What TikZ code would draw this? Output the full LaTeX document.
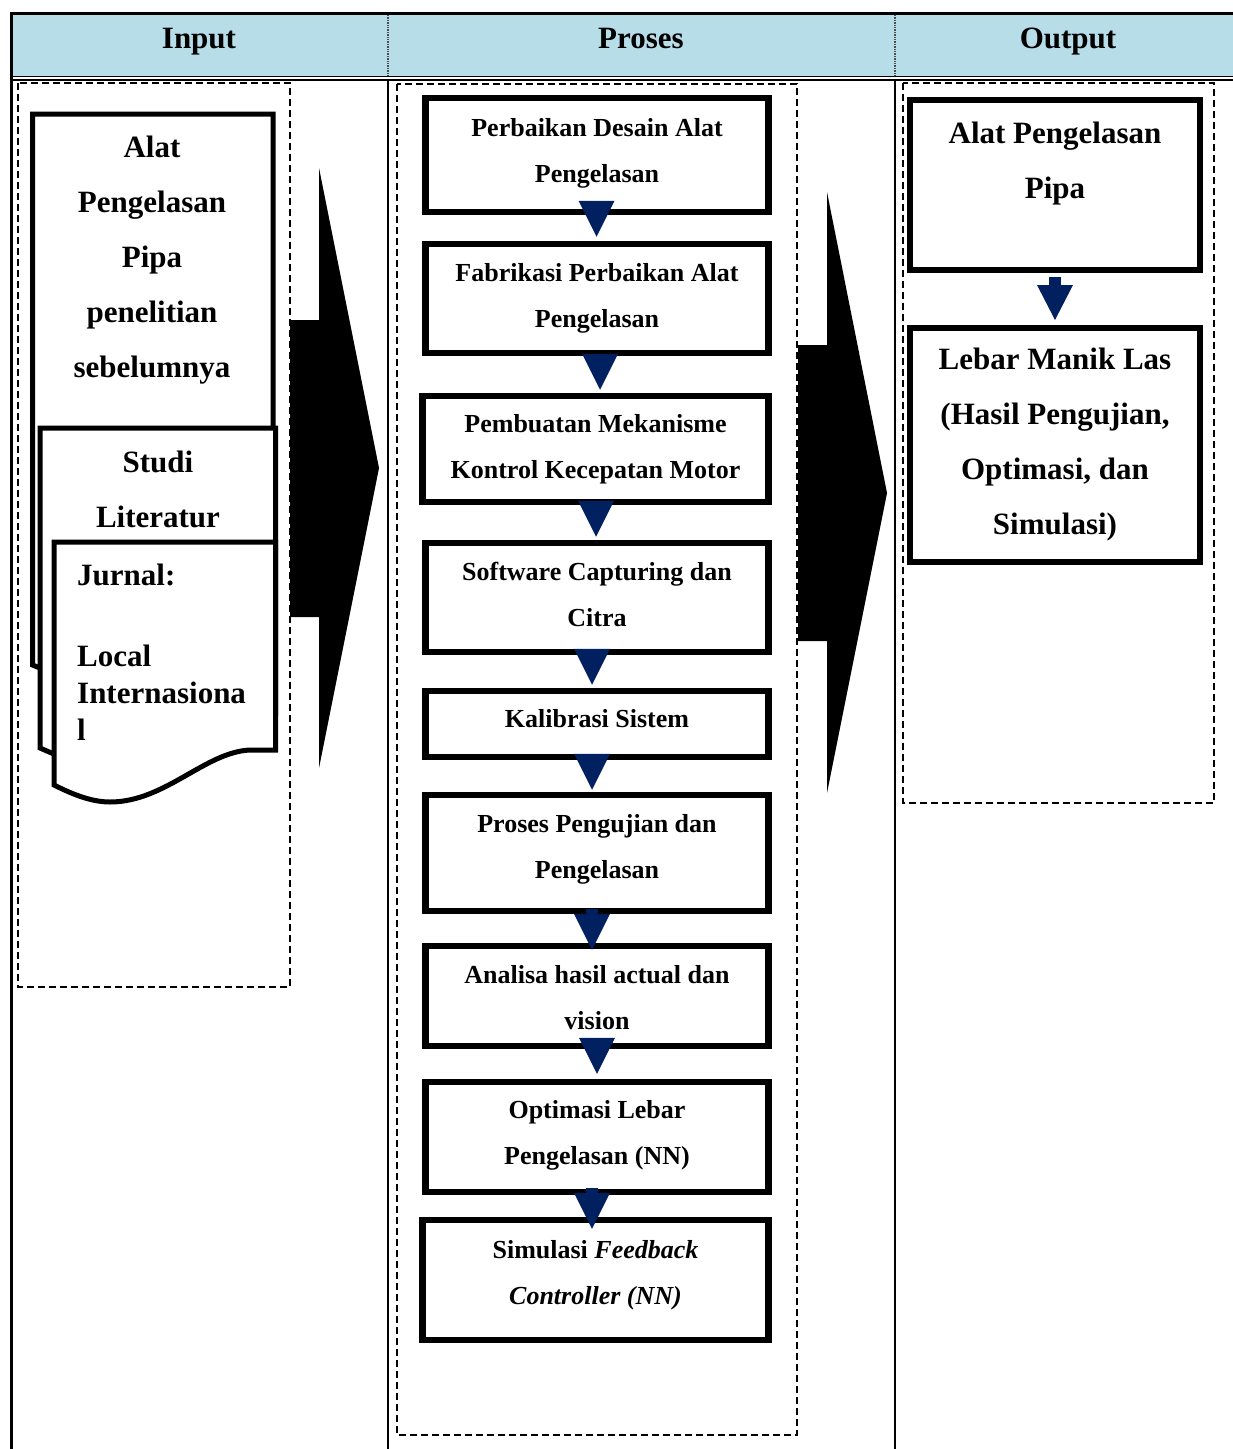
\documentclass[tikz,border=0pt]{standalone}
\usepackage{fontspec}
\setmainfont{Liberation Serif}
\usetikzlibrary{calc}
\definecolor{headblue}{HTML}{B7DDE8}
\definecolor{navy}{HTML}{002060}
\newcommand\procfont{\fontsize{26}{46}\selectfont\bfseries}
\newcommand\bigfont{\fontsize{31}{55}\selectfont\bfseries}

\begin{document}
\begin{tikzpicture}[x=1pt,y=-1pt,
  procbox/.style={draw=black,line width=6.5pt,fill=white,minimum width=343pt,inner sep=0pt},
  proctext/.style={align=center,font=\procfont,inner sep=0pt},
  outbox/.style={draw=black,line width=6pt,fill=white,minimum width=290pt,inner sep=0pt},
  docshape/.style={draw=black,line width=5pt,fill=white,line join=miter},
  dashbox/.style={draw=black,line width=1.4pt,dash pattern=on 7pt off 4pt},
  bigtext/.style={align=center,font=\bigfont,inner sep=0pt},
  headtext/.style={font=\bigfont,inner sep=0pt,anchor=base},
  blockarrow/.style={fill=black},
  tri/.style={fill=navy},
]
\useasboundingbox (0,0) rectangle (1233,1449);

% ---------- table header ----------
\fill[headblue] (10,13) rectangle (1233,76);
\draw[line width=3pt] (10,13.5) -- (1233,13.5);
\draw[line width=1.5pt] (10,76.5) -- (1233,76.5);
\draw[line width=1.5pt] (10,80) -- (1233,80);
\draw[line width=3pt] (11.5,12) -- (11.5,1449);
\draw[line width=1.4pt,densely dotted,black!70] (388,15) -- (388,76);
\draw[line width=1.4pt,densely dotted,black!70] (895,15) -- (895,76);
\draw[line width=1.3pt] (388,80) -- (388,1449);
\draw[line width=1.3pt] (895,80) -- (895,1449);

\node[headtext] (hIn)  at (199,48)  {Input};
\node[headtext] (hPr)  at (641,48)  {Proses};
\node[headtext] (hOut) at (1068,48) {Output};

% ---------- dashed column frames ----------
\draw[dashbox] (18,83) rectangle (290,987);
\draw[dashbox] (397,84) rectangle (797,1435);
\draw[dashbox] (903,83) rectangle (1214,803);

% ---------- block arrows between columns ----------
\fill[blockarrow] (290,320) -- (319,320) -- (319,168) -- (379,468) -- (319,768)
  -- (319,617) -- (290,617) -- cycle;
\fill[blockarrow] (798,345) -- (827,345) -- (827,192) -- (887,493) -- (827,793)
  -- (827,641) -- (798,641) -- cycle;

% ---------- input: stacked documents ----------
\draw[docshape] (32.5,114) -- (273,114) -- (273,630) -- (250,630)
  .. controls (205,632) and (165,682) .. (95,682)
  .. controls (75,682) and (52,673) .. (32.5,665) -- cycle;
\draw[docshape] (40,428) -- (275.5,428) -- (275.5,713) -- (250,713)
  .. controls (205,715) and (165,765) .. (100,765)
  .. controls (80,765) and (58,756) .. (40,748) -- cycle;
\draw[docshape] (54,542) -- (275.5,542) -- (275.5,750) -- (250,750)
  .. controls (205,752) and (165,802) .. (110,802)
  .. controls (90,802) and (70,793) .. (54,785) -- cycle;

\node[bigtext] (d1) at (152,260) {Alat\\Pengelasan\\Pipa\\penelitian\\sebelumnya};
\node[bigtext] (d2) at (158,489) {Studi\\Literatur};
\node[bigtext,anchor=west] (d3a) at (77,575) {Jurnal:};
\node[bigtext,anchor=west,align=left,font=\fontsize{31}{37}\selectfont\bfseries]
  (d3b) at (77,693) {Local\\Internasiona\\l};

% ---------- process chain ----------
\node[procbox,minimum height=114pt] (p1) at (597,155) {};
\node[procbox,minimum height=109pt] (p2) at (597,298.5) {};
\node[procbox,minimum height=106pt,minimum width=346pt] (p3) at (595.5,449) {};
\node[procbox,minimum height=109pt] (p4) at (597,597.5) {};
\node[procbox,minimum height=66pt] (p5) at (597,724) {};
\node[procbox,minimum height=116pt] (p6) at (597,853) {};
\node[procbox,minimum height=100pt] (p7) at (597,996) {};
\node[procbox,minimum height=110pt] (p8) at (597,1137) {};
\node[procbox,minimum height=120pt,minimum width=346pt] (p9) at (595.5,1280) {};

\node[proctext] (t1) at ($(p1.center)+(0,-2)$) {Perbaikan Desain Alat\\Pengelasan};
\node[proctext] (t2) at ($(p2.center)+(0,0)$) {Fabrikasi Perbaikan Alat\\Pengelasan};
\node[proctext] (t3) at ($(p3.center)+(0,0)$) {Pembuatan Mekanisme\\Kontrol Kecepatan Motor};
\node[proctext] (t4) at ($(p4.center)+(0,-3)$) {Software Capturing dan\\Citra};
\node[proctext] (t5) at ($(p5.center)+(0,-5)$) {Kalibrasi Sistem};
\node[proctext] (t6) at ($(p6.center)+(0,-4)$) {Proses Pengujian dan\\Pengelasan};
\node[proctext] (t7) at ($(p7.center)+(0,2)$) {Analisa hasil actual dan\\vision};
\node[proctext] (t8) at ($(p8.center)+(0,-2)$) {Optimasi Lebar\\Pengelasan (NN)};
\node[proctext] (t9) at ($(p9.center)+(0,-5)$) {Simulasi \textit{Feedback}\\\textit{Controller (NN)}};

% downward triangles: from/to/x-shift/apex shift/stem length
\foreach \a/\b/\dx/\dy/\st in {p1/p2/-0.5/-4/0, p2/p3/4.5/-3/0, p3/p4/-1/-3/0,
    p4/p5/-5/-3/0, p5/p6/-5/-2/0, p6/p7/-5/7/5, p7/p8/0/-5/0, p8/p9/-3.5/12/5} {
  \fill[tri] ($(\b.north)+(\dx-6,\dy-36-\st)$) rectangle ($(\b.north)+(\dx+6,\dy-35)$);
  \fill[tri] ($(\b.north)+(\dx-18,\dy-36)$) -- ($(\b.north)+(\dx+18,\dy-36)$)
    -- ($(\b.north)+(\dx,\dy)$) -- cycle;
}

% ---------- output ----------
\node[outbox,minimum height=170pt] (o1) at (1055,185) {};
\node[bigtext] (o1t) at (1055,164) {Alat Pengelasan\\Pipa};
\node[outbox,minimum height=234pt,align=center,font=\bigfont] (o2) at (1055,445)
  {Lebar Manik Las\\(Hasil Pengujian,\\Optimasi, dan\\Simulasi)};
\fill[tri] ($(o2.north)+(-6,-48)$) rectangle ($(o2.north)+(6,-39)$);
\fill[tri] ($(o2.north)+(-18,-40)$) -- ($(o2.north)+(18,-40)$) -- ($(o2.north)+(0,-5)$) -- cycle;
\end{tikzpicture}
\end{document}
